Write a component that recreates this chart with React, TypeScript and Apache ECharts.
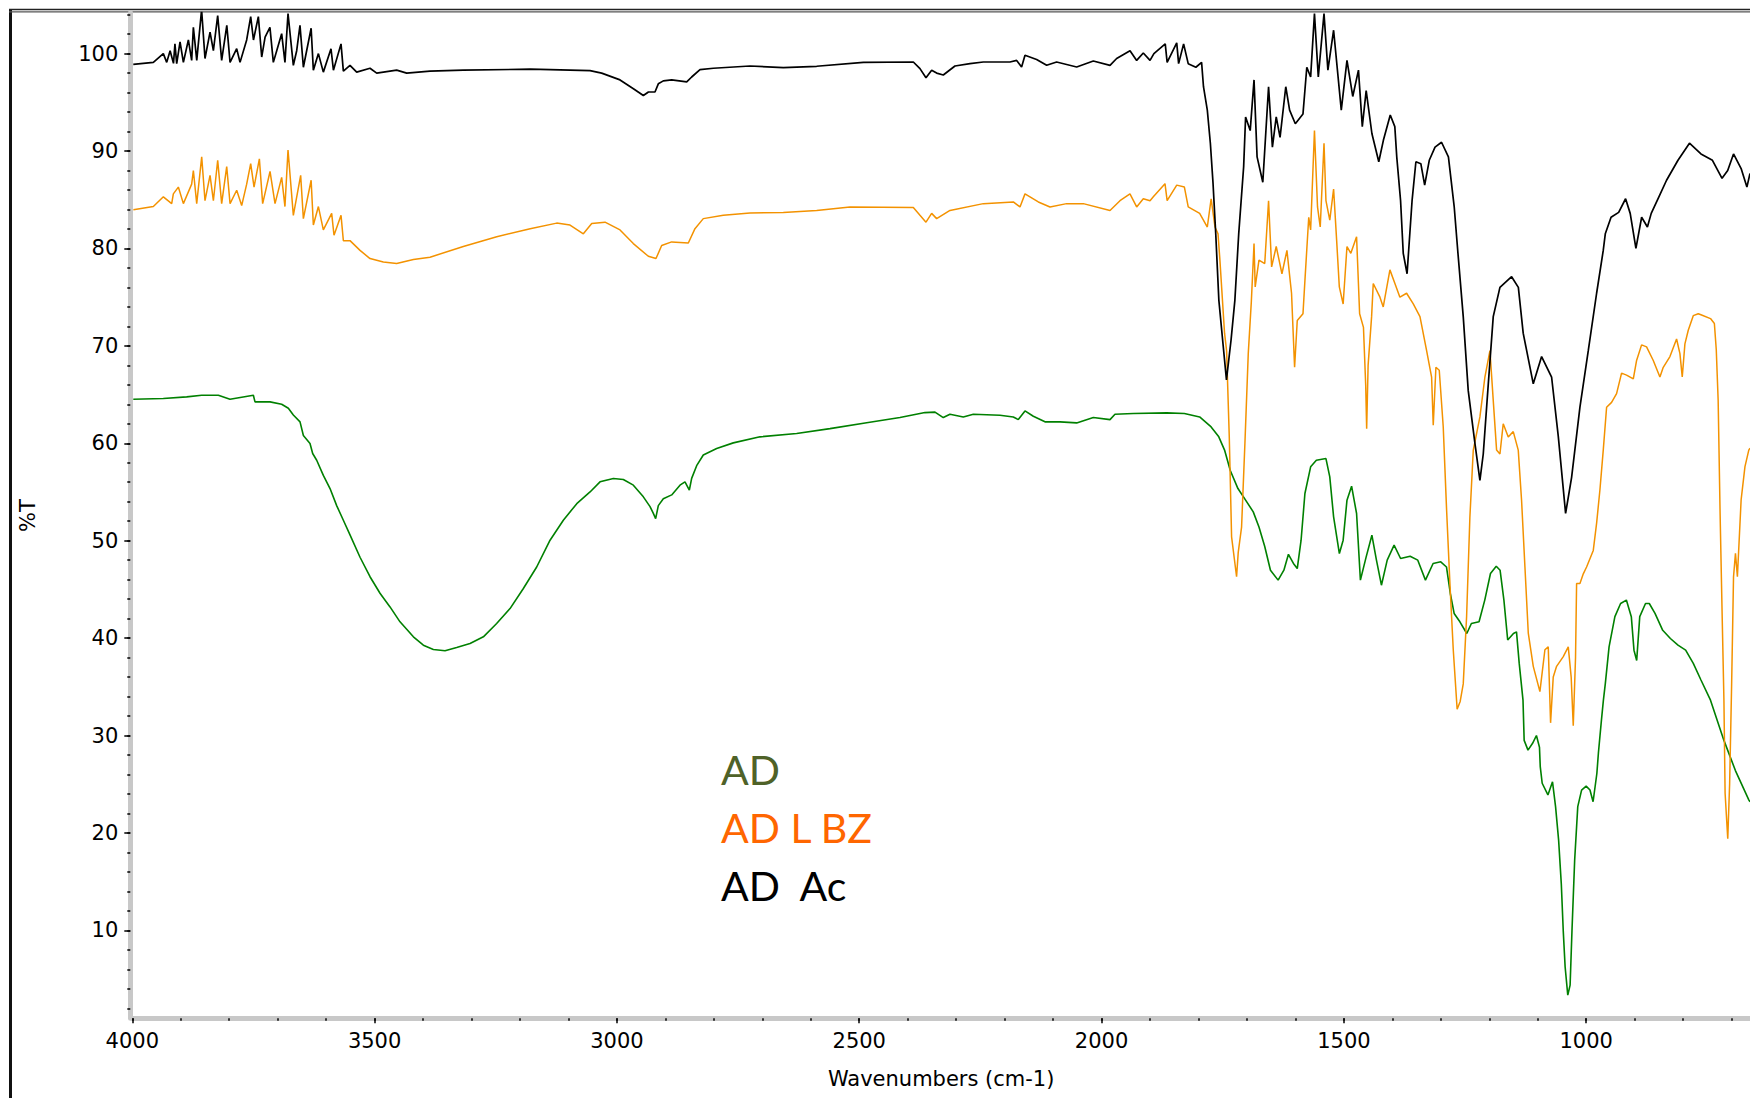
import React, { useEffect, useRef } from "react";
import * as echarts from "echarts";

// [wavenumber (cm-1), %T]
const adAc: [number, number][] = [
  [3998, 98.9], [3956.6, 99.1], [3936, 100.0], [3929, 99.1], [3922, 100.3], [3915, 99.0],
  [3912, 101.0], [3908.4, 98.97], [3901.5, 101.2], [3894.6, 99.1], [3884.3, 101.4], [3877.5, 99.3],
  [3874, 102.7], [3867, 99.3], [3857, 104.5], [3850, 99.5], [3839.6, 102.2], [3832.7, 100.3],
  [3823.8, 103.9], [3815.6, 99.3], [3805, 102.9], [3798.3, 99.1], [3784.6, 100.5], [3777.7, 99.1],
  [3764, 101.4], [3755.7, 103.8], [3750, 101.4], [3739.9, 103.8], [3733, 99.65], [3726, 101.7],
  [3716, 102.7], [3709, 99.1], [3702, 100.3], [3691.8, 102.05], [3685, 99.1], [3678.7, 104.1],
  [3667.7, 98.8], [3660.8, 100.3], [3654, 102.9], [3647, 98.6], [3631, 102.6], [3626.4, 98.3],
  [3616, 100.0], [3605.8, 98.1], [3590, 100.5], [3585, 98.3], [3569.3, 101.0], [3564.5, 98.2],
  [3550.8, 98.8], [3537, 98.1], [3509.5, 98.5], [3495.7, 98.0], [3454.5, 98.3], [3433.8, 98.0],
  [3385.7, 98.2], [3317, 98.3], [3179, 98.4], [3055.5, 98.25], [3031.5, 98.0], [2993.6, 97.3],
  [2966, 96.4], [2945.5, 95.7], [2935, 96.06], [2921.5, 96.06], [2914.6, 96.9], [2904.3, 97.2],
  [2887, 97.3], [2856, 97.1], [2845.8, 97.6], [2828.6, 98.35], [2801, 98.5], [2725.5, 98.73],
  [2656.7, 98.56], [2587.9, 98.7], [2491.6, 99.1], [2388.4, 99.14], [2374.7, 98.46], [2362.3, 97.53],
  [2350.6, 98.3], [2340.3, 98.0], [2326.6, 97.8], [2302.5, 98.73], [2271.5, 98.97], [2244, 99.14],
  [2189, 99.14], [2175.2, 99.3], [2165, 98.63], [2158, 99.83], [2134, 99.4], [2113.3, 98.8],
  [2092.7, 99.14], [2051.4, 98.63], [2017, 99.24], [1982.6, 98.8], [1968.9, 99.5], [1941.3, 100.3],
  [1927.6, 99.3], [1913.9, 100.06], [1900, 99.3], [1892, 100.0], [1868.6, 101.0], [1864.7, 99.1],
  [1844.9, 101.1], [1841, 98.97], [1830.7, 101.0], [1821.2, 98.97], [1805.4, 98.6], [1793.6, 99.1],
  [1789.7, 96.6], [1781.8, 94.2], [1775.5, 90.8], [1770, 86.7], [1764.4, 81.5], [1758, 74.7],
  [1750.2, 70.6], [1742.3, 66.5], [1732.8, 70.6], [1724.9, 74.7], [1717, 81.5], [1706.8, 88.4],
  [1702.8, 93.5], [1693.3, 92.1], [1685.4, 97.3], [1679.1, 89.4], [1667.3, 86.8], [1655.4, 96.6],
  [1647.5, 90.4], [1639.6, 93.5], [1631.7, 91.4], [1619.9, 96.6], [1612, 94.2], [1600.2, 92.8],
  [1584.4, 93.8], [1576.5, 98.6], [1568.6, 97.6], [1560.7, 104.1], [1552.8, 97.6], [1541, 104.1],
  [1533, 98.3], [1521.2, 102.4], [1505.4, 94.2], [1493.6, 99.3], [1481.7, 95.6], [1469.9, 98.3],
  [1462, 92.5], [1454, 96.2], [1442.2, 91.8], [1428, 88.9], [1418.5, 91.1], [1404.3, 93.7],
  [1394.9, 92.5], [1390.9, 89.4], [1383, 84.9], [1377.5, 79.5], [1369.6, 77.4], [1359.3, 84.9],
  [1351.4, 88.9], [1341.2, 88.7], [1333.3, 86.5], [1323.8, 89.05], [1311.9, 90.4], [1298.5, 90.9],
  [1284.3, 89.4], [1272.4, 84.3], [1264.6, 79.5], [1253.7, 73.0], [1243.4, 65.4], [1229.6, 60.0],
  [1219.3, 56.2], [1212.4, 58.9], [1202, 66.1], [1191.8, 73.0], [1178, 76.0], [1153.9, 77.1],
  [1140, 76.0], [1130, 71.3], [1109.2, 66.1], [1092, 68.9], [1071.4, 66.8], [1057.6, 60.7],
  [1042.5, 52.8], [1030.1, 56.5], [1012.9, 63.7], [995.7, 69.5], [978.5, 75.4], [964.8, 79.8],
  [960.6, 81.5], [948.7, 83.2], [933, 83.7], [918.7, 85.1], [909.2, 83.6], [897.4, 80.0],
  [885.6, 83.2], [873.7, 82.2], [865.8, 83.6], [850, 85.3], [834.2, 87.0], [810.6, 89.05],
  [786.9, 90.8], [763.2, 89.7], [739.5, 89.05], [719.7, 87.2], [708, 88.0], [696, 89.7],
  [680.3, 88.2], [668.4, 86.3], [662, 87.7],
];

const adLBz: [number, number][] = [
  [3997.8, 83.97], [3956.6, 84.3], [3935.9, 85.3], [3918.7, 84.6], [3915.3, 85.6], [3905, 86.3],
  [3894.6, 84.6], [3877.5, 86.6], [3874, 88.0], [3867.1, 84.6], [3856.8, 89.4], [3850, 84.9],
  [3839.6, 87.5], [3832.7, 84.9], [3823.8, 89.05], [3815.6, 84.6], [3805.2, 88.4], [3798.3, 84.6],
  [3784.6, 85.97], [3774.3, 84.4], [3764, 86.6], [3755.7, 88.7], [3748.8, 86.3], [3737.8, 89.2],
  [3731, 84.6], [3715.8, 87.9], [3705.5, 84.6], [3691.8, 87.3], [3685, 84.3], [3678.7, 90.1],
  [3667.7, 83.4], [3652.6, 87.5], [3647, 83.06], [3631, 87.0], [3626.4, 82.4], [3616, 84.3],
  [3605.8, 81.9], [3588.6, 83.6], [3583.8, 81.35], [3569.3, 83.4], [3564.5, 80.8], [3550.8, 80.8],
  [3530.1, 79.8], [3509.5, 78.96], [3482, 78.6], [3454.5, 78.45], [3420, 78.86], [3385.7, 79.1],
  [3317, 80.2], [3248, 81.2], [3179, 82.03], [3124.3, 82.6], [3096.8, 82.4], [3069.3, 81.5],
  [3052, 82.55], [3024.6, 82.7], [2993.6, 81.9], [2966.2, 80.5], [2935.2, 79.2], [2919.4, 78.96],
  [2907.7, 80.3], [2887.1, 80.67], [2852.7, 80.56], [2839, 82.03], [2821.8, 83.06], [2780.5, 83.4],
  [2725.5, 83.64], [2656.7, 83.68], [2587.9, 83.9], [2519.1, 84.26], [2388.4, 84.2], [2374.7, 83.4],
  [2362.3, 82.7], [2350.6, 83.6], [2340.3, 83.06], [2312.8, 83.9], [2244, 84.6], [2182.1, 84.77],
  [2168.3, 84.26], [2158, 85.6], [2130.5, 84.77], [2106.4, 84.26], [2072, 84.6], [2037.7, 84.6],
  [1982.6, 83.9], [1962, 84.9], [1941.4, 85.6], [1927.6, 84.26], [1913.9, 85.1], [1900, 84.9],
  [1893.2, 85.3], [1869.1, 86.65], [1864.7, 84.9], [1844.9, 86.5], [1829.1, 86.3], [1821.2, 84.26],
  [1797.6, 83.6], [1781.8, 82.2], [1773.9, 85.1], [1766, 82.2], [1759.7, 81.5], [1755.8, 78.8],
  [1746.2, 71.3], [1742, 69.5], [1736.5, 60.7], [1731.7, 50.4], [1721.4, 46.3], [1718, 48.8],
  [1711.1, 51.4], [1704.2, 60.0], [1697.3, 69.2], [1691, 74.5], [1685.4, 80.5], [1683, 76.05],
  [1675.2, 78.8], [1663.3, 78.45], [1655.4, 84.9], [1649.1, 78.1], [1639.6, 80.2], [1627.8, 77.4],
  [1617.5, 79.8], [1608, 75.4], [1601.7, 67.8], [1596.2, 72.6], [1584.4, 73.3], [1580.4, 76.7],
  [1572.5, 83.2], [1568.6, 81.9], [1560.7, 92.1], [1554.4, 84.26], [1548.8, 82.2], [1541, 90.8],
  [1537, 84.9], [1529.1, 82.9], [1521.2, 86.1], [1514.9, 80.8], [1509.4, 76.05], [1501.5, 74.3],
  [1493.6, 80.2], [1485.7, 79.5], [1473.8, 81.2], [1467.5, 73.3], [1459.6, 71.9], [1455, 66.0],
  [1453, 61.5], [1450, 68.0], [1442.8, 73.0], [1439.4, 76.4], [1425.6, 75.0], [1418.8, 74.0],
  [1405, 77.8], [1394.7, 76.4], [1384.4, 75.0], [1370.6, 75.4], [1356.8, 74.3], [1343, 73.0],
  [1329.3, 69.5], [1319, 66.8], [1315.6, 61.85], [1310.1, 67.8], [1303.2, 67.5], [1295, 61.7],
  [1288, 53.1], [1281.2, 45.6], [1274.3, 38.8], [1266.3, 32.7], [1260, 33.5], [1253.7, 35.3],
  [1246.8, 42.2], [1240, 52.4], [1233, 59.3], [1219.3, 62.7], [1209, 66.8], [1198.6, 69.5],
  [1191.8, 64.4], [1184.9, 59.3], [1178, 58.9], [1171.2, 62.0], [1160.8, 60.65], [1150.5, 61.2],
  [1140.2, 59.3], [1133.3, 54.1], [1126.4, 47.3], [1119.5, 40.5], [1109.2, 37.1], [1095.5, 34.5],
  [1085.2, 38.8], [1078.3, 39.1], [1073.5, 31.3], [1068, 36.0], [1061.1, 37.1], [1047.3, 38.1],
  [1037, 39.1], [1031, 36.0], [1026.7, 31.0], [1022, 38.0], [1019.8, 45.6], [1012.9, 45.6],
  [1006, 46.6], [999.2, 47.3], [985.4, 49.0], [978.5, 51.8], [971.7, 55.2], [964.8, 59.3],
  [957.9, 63.7], [947.6, 64.2], [937.3, 65.1], [927, 67.2], [916.7, 67.0], [902.8, 66.6],
  [896, 68.5], [885.7, 70.1], [875.4, 69.9], [861.6, 68.5], [847.9, 66.8], [841, 67.8],
  [827.2, 68.9], [813.5, 70.7], [806.6, 69.2], [801.8, 66.8], [796.3, 70.2], [789.4, 71.6],
  [779.1, 73.1], [768.8, 73.3], [763.2, 73.2], [743.5, 72.8], [735.5, 72.3], [731.6, 69.6],
  [727.7, 64.4], [723.7, 52.8], [719.7, 42.9], [715.8, 33.6], [713.4, 24.1], [707.9, 19.4],
  [704, 25.1], [700, 35.0], [696, 46.3], [692, 48.7], [688, 46.3], [680.3, 54.2],
  [672.4, 57.6], [664.5, 59.3], [662, 59.5],
];

const ad: [number, number][] = [
  [3998, 64.52], [3936, 64.59], [3887.8, 64.76], [3856.8, 64.93], [3822.4, 64.93], [3798.4, 64.52],
  [3750.2, 64.93], [3746.8, 64.25], [3715.8, 64.25], [3691.8, 64.0], [3678, 63.6], [3667.7, 62.9],
  [3653.9, 62.2], [3647, 60.8], [3633.3, 59.97], [3627.8, 58.95], [3619.5, 58.26], [3605.8, 56.7],
  [3592, 55.35], [3578.3, 53.6], [3564.5, 52.1], [3550.8, 50.6], [3530.1, 48.3], [3509.5, 46.3],
  [3488.9, 44.6], [3468.2, 43.2], [3447.6, 41.67], [3420, 40.13], [3399.4, 39.27], [3378.8, 38.83],
  [3354.7, 38.7], [3330.7, 39.03], [3303.1, 39.44], [3275.6, 40.13], [3248.2, 41.5], [3220.6, 43.03],
  [3193.1, 45.09], [3165.6, 47.3], [3138, 50.05], [3110.6, 52.1], [3082.9, 53.8], [3055.5, 55.0],
  [3034.9, 56.04], [3007.4, 56.38], [2986.8, 56.28], [2966.1, 55.7], [2945.5, 54.5], [2931.7, 53.5],
  [2924.9, 52.8], [2920.1, 52.27], [2914.6, 53.6], [2904.3, 54.3], [2887, 54.7], [2869.9, 55.7],
  [2859.6, 56.04], [2850.6, 55.2], [2845.8, 56.4], [2835.5, 57.7], [2821.8, 58.8], [2794.2, 59.46],
  [2759.9, 60.04], [2704.8, 60.66], [2629.2, 61.0], [2560.4, 61.5], [2484.7, 62.1], [2416, 62.64],
  [2364.4, 63.15], [2343.7, 63.2], [2326.6, 62.64], [2312.8, 62.98], [2285.3, 62.7], [2264.6, 62.98],
  [2209.6, 62.88], [2182.1, 62.7], [2171.8, 62.43], [2158, 63.32], [2140.8, 62.77], [2116.8, 62.2],
  [2085.8, 62.2], [2051.4, 62.09], [2017, 62.64], [1982.6, 62.43], [1972.3, 62.98], [1934.5, 63.05],
  [1865.7, 63.12], [1829.1, 63.05], [1797.6, 62.7], [1773.9, 61.68], [1758.1, 60.66], [1746.2, 59.3],
  [1734.4, 57.2], [1718.6, 55.35], [1702.8, 54.16], [1687, 52.96], [1675.2, 51.4], [1663.3, 49.4],
  [1651.5, 46.97], [1635.7, 45.95], [1623.8, 46.97], [1614.4, 48.6], [1604.1, 47.66], [1596.2, 47.14],
  [1588.3, 50.05], [1580.4, 54.84], [1568.6, 57.58], [1556.8, 58.26], [1537, 58.43], [1529.1, 56.55],
  [1521.2, 52.45], [1509.3, 48.68], [1501.5, 50.05], [1493.6, 54.16], [1484.1, 55.6], [1473.8, 52.79],
  [1465.9, 45.95], [1454, 48.34], [1442.2, 50.56], [1432.8, 48.0], [1422.5, 45.43], [1410.6, 48.0],
  [1396.4, 49.54], [1383, 48.17], [1363.3, 48.41], [1347.5, 48.0], [1331.7, 45.95], [1315.9, 47.66],
  [1300.1, 47.83], [1288.3, 47.3], [1280.4, 44.58], [1272.5, 42.53], [1260.6, 41.67], [1246.4, 40.47],
  [1236.9, 41.5], [1221.1, 41.67], [1209.3, 43.9], [1197.5, 46.63], [1185.6, 47.38], [1177.7, 46.97],
  [1169.8, 43.9], [1162, 39.8], [1150.1, 40.47], [1143.8, 40.64], [1138.2, 37.4], [1130.4, 33.63],
  [1128, 29.5], [1120.1, 28.5], [1110.6, 29.2], [1102.7, 30.0], [1096.4, 28.8], [1094.8, 26.8],
  [1090.8, 25.1], [1079, 23.9], [1069.5, 25.25], [1063.2, 22.7], [1056.9, 19.26], [1051.4, 14.8],
  [1047.4, 10.0], [1043.5, 6.26], [1038, 3.35], [1033.2, 4.38], [1029.3, 10.0], [1023.8, 17.2],
  [1017.4, 22.7], [1009.5, 24.4], [1000.1, 24.8], [992.2, 24.4], [985.8, 23.2], [978, 26.1],
  [974.8, 28.2], [968.5, 31.6], [964.5, 33.63], [960.6, 35.3], [952.8, 39.1], [940.8, 42.2],
  [929, 43.55], [917.1, 43.9], [906.9, 42.2], [901.4, 38.76], [895.8, 37.7], [889.5, 42.2],
  [877.6, 43.55], [869.8, 43.55], [858, 42.53], [842.1, 40.8], [826.3, 39.96], [810.6, 39.28],
  [794.8, 38.76], [779, 37.4], [763.2, 35.7], [743.5, 33.63], [715.8, 29.5], [692.1, 26.4],
  [664.5, 23.4], [662, 23.2],
];

const xMajorTicks = [1000, 1500, 2000, 2500, 3000, 3500, 4000];
const xMinorTicks = [
  700, 800, 900, 1000, 1100, 1200, 1300, 1400, 1500, 1600, 1700, 1800, 1900, 2000, 2100, 2200, 2300,
  2400, 2500, 2600, 2700, 2800, 2900, 3000, 3100, 3200, 3300, 3400, 3500, 3600, 3700, 3800, 3900, 4000,
];
const yMajorTicks = [10, 20, 30, 40, 50, 60, 70, 80, 90, 100];
const yMinorTicks = [
  2, 4, 6, 8, 10, 12, 14, 16, 18, 20, 22, 24, 26, 28, 30, 32, 34, 36, 38, 40, 42, 44, 46, 48, 50, 52,
  54, 56, 58, 60, 62, 64, 66, 68, 70, 72, 74, 76, 78, 80, 82, 84, 86, 88, 90, 92, 94, 96, 98, 100, 102, 104,
];
const legendLabels = ["AD", "AD L BZ", "AD  Ac"];
const legendColors = ["#4f6228", "#ff6600", "#000000"];

const X_MIN = 662;
const X_MAX = 4000;
const Y_MIN = 0.97;
const Y_MAX = 104.2;

export default function App() {
  const ref = useRef<HTMLDivElement>(null);

  useEffect(() => {
    if (!ref.current) return;
    const chart = echarts.init(ref.current, undefined, { renderer: "svg" });
    const axisFont = "'DejaVu Sans', 'Liberation Sans', sans-serif";
    const baseX = {
      type: "value" as const,
      min: X_MIN,
      max: X_MAX,
      inverse: true,
      position: "bottom" as const,
      splitLine: { show: false },
    };
    const baseY = {
      type: "value" as const,
      min: Y_MIN,
      max: Y_MAX,
      position: "left" as const,
      splitLine: { show: false },
    };
    chart.setOption({
      animation: false,
      backgroundColor: "#ffffff",
      grid: { left: 132.3, right: 0, top: 12.7, bottom: 79.7, containLabel: false },
      xAxis: [
        {
          ...baseX,
          name: "Wavenumbers (cm-1)",
          nameLocation: "middle",
          nameGap: 50,
          nameTextStyle: { fontFamily: axisFont, fontSize: 21, color: "#000" },
          axisLine: { show: true, lineStyle: { color: "#c8c8c8", width: 5 } },
          axisTick: {
            show: true,
            customValues: xMajorTicks,
            length: 5,
            lineStyle: { color: "#000", width: 1.5 },
          },
          axisLabel: {
            show: true,
            customValues: xMajorTicks,
            margin: 12,
            fontFamily: axisFont,
            fontSize: 21,
            color: "#000",
            formatter: (v: number) => String(v),
          },
        },
        {
          ...baseX,
          axisLine: { show: false },
          axisLabel: { show: false },
          axisTick: {
            show: true,
            customValues: xMinorTicks,
            length: 2.5,
            lineStyle: { color: "#000", width: 1.5 },
          },
        },
      ],
      yAxis: [
        {
          ...baseY,
          offset: 2,
          name: "%T",
          nameLocation: "middle",
          nameGap: 92,
          nameTextStyle: { fontFamily: axisFont, fontSize: 21, color: "#000" },
          axisLine: { show: true, lineStyle: { color: "#c8c8c8", width: 5 } },
          axisTick: {
            show: true,
            customValues: yMajorTicks,
            length: 6,
            lineStyle: { color: "#000", width: 1.5 },
          },
          axisLabel: {
            show: true,
            customValues: yMajorTicks,
            margin: 12,
            fontFamily: axisFont,
            fontSize: 21,
            color: "#000",
            formatter: (v: number) => String(v),
          },
        },
        {
          ...baseY,
          offset: 2,
          axisLine: { show: false },
          axisLabel: { show: false },
          axisTick: {
            show: true,
            customValues: yMinorTicks,
            length: 3,
            lineStyle: { color: "#000", width: 1.5 },
          },
        },
      ],
      series: [
        {
          name: legendLabels[0],
          type: "line",
          data: ad,
          showSymbol: false,
          symbol: "none",
          silent: true,
          lineStyle: { color: "#008000", width: 1.6 },
        },
        {
          name: legendLabels[1],
          type: "line",
          data: adLBz,
          showSymbol: false,
          symbol: "none",
          silent: true,
          lineStyle: { color: "#f39200", width: 1.5 },
        },
        {
          name: legendLabels[2],
          type: "line",
          data: adAc,
          showSymbol: false,
          symbol: "none",
          silent: true,
          lineStyle: { color: "#000000", width: 1.7 },
        },
      ],
      graphic: [
        {
          type: "line",
          shape: { x1: 10.5, y1: 9, x2: 10.5, y2: 1098 },
          style: { stroke: "#111", lineWidth: 3 },
          silent: true,
        },
        {
          type: "line",
          shape: { x1: 9, y1: 9.5, x2: 1750, y2: 9.5 },
          style: { stroke: "#222", lineWidth: 1.5 },
          silent: true,
        },
        {
          type: "line",
          shape: { x1: 9, y1: 11.8, x2: 1750, y2: 11.8 },
          style: { stroke: "#555", lineWidth: 1.2 },
          silent: true,
        },
        ...legendLabels.map((t, i) => ({
          type: "text",
          left: 721,
          top: 749 + i * 58,
          silent: true,
          style: {
            text: t,
            fill: legendColors[i],
            font: "41px Lato, 'Open Sans', sans-serif",
          },
        })),
      ],
    });
    return () => chart.dispose();
  }, []);

  return (
    <div
      ref={ref}
      style={{ position: "fixed", left: 0, top: 0, width: 1750, height: 1098, background: "#fff" }}
    />
  );
}
